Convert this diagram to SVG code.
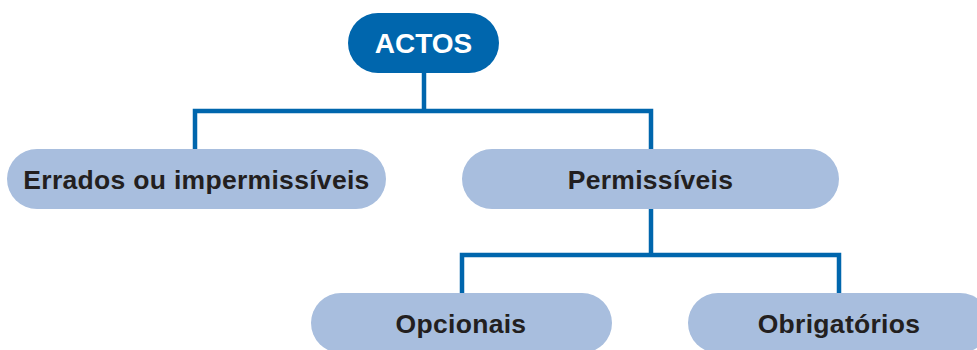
<svg xmlns="http://www.w3.org/2000/svg" width="977" height="350" viewBox="0 0 977 350">
  <style>
    .root { fill: #0066AD; }
    .leaf { fill: #A8BEDE; }
    .link { fill: none; stroke: #0066AD; stroke-width: 4.5; stroke-linejoin: miter; stroke-linecap: butt; }
    .t { font-family: "Liberation Sans", Arial, sans-serif; font-weight: bold; text-anchor: middle; }
    .tw { fill: #FFFFFF; font-size: 28px; }
    .td { fill: #231F20; font-size: 26.5px; }
  </style>
  <rect width="977" height="350" fill="#FFFFFF"/>
  <g id="connectors">
    <path class="link" d="M424 73 V111"/>
    <path class="link" d="M195 150 V111 H651 V150"/>
    <path class="link" d="M651 209 V255"/>
    <path class="link" d="M462 294 V255 H839 V294"/>
  </g>
  <g id="actos">
    <rect class="root" x="348" y="13" width="151" height="60" rx="30"/>
    <text class="t tw" x="423.5" y="53">ACTOS</text>
  </g>
  <g id="errados">
    <rect class="leaf" x="7" y="149" width="379" height="60" rx="30"/>
    <text class="t td" x="196.5" y="189" letter-spacing="0.3">Errados ou impermissíveis</text>
  </g>
  <g id="permissiveis">
    <rect class="leaf" x="462" y="149" width="377" height="60" rx="30"/>
    <text class="t td" x="650.5" y="189" letter-spacing="0.3">Permissíveis</text>
  </g>
  <g id="opcionais">
    <rect class="leaf" x="311" y="293" width="301" height="60" rx="30"/>
    <text class="t td" x="461" y="333" letter-spacing="0.3">Opcionais</text>
  </g>
  <g id="obrigatorios">
    <rect class="leaf" x="688" y="293" width="302" height="60" rx="30"/>
    <text class="t td" x="839" y="333" letter-spacing="0.3">Obrigatórios</text>
  </g>
</svg>
